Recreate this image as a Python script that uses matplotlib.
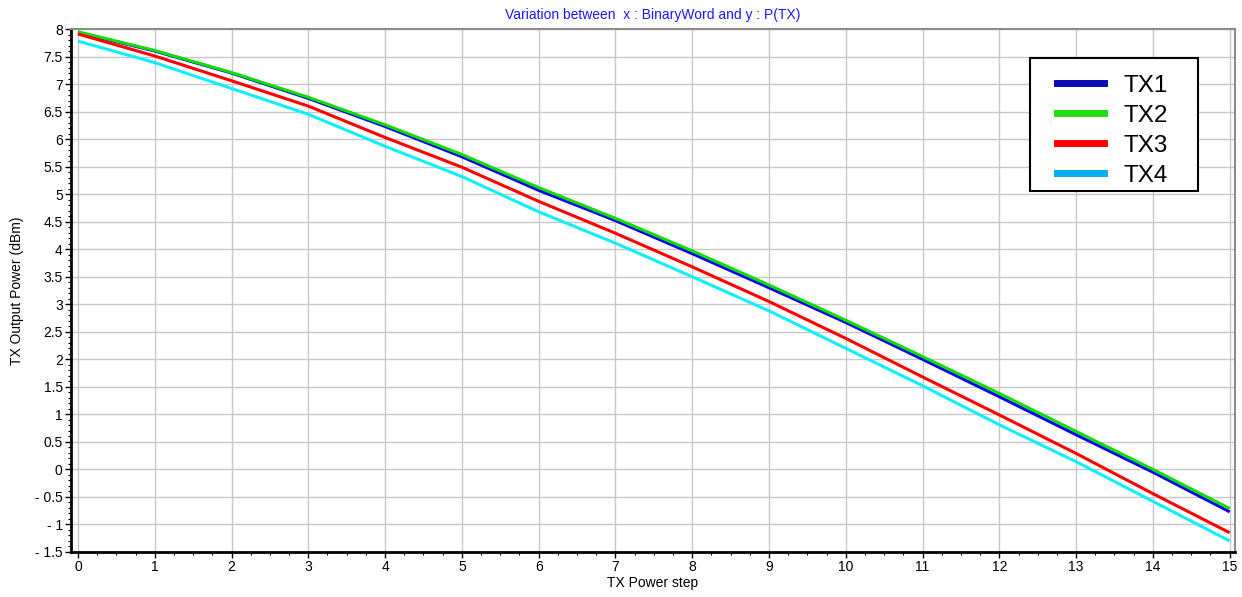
"""TX output power vs power step — four transmitters"""

import matplotlib
matplotlib.use("Agg")
import matplotlib.pyplot as plt
from matplotlib.lines import Line2D
from matplotlib.patches import Rectangle
from matplotlib.ticker import MultipleLocator, FuncFormatter

plt.rcParams["font.family"] = ["Liberation Sans", "DejaVu Sans"]

# ── data ──
steps = list(range(16))
tx1 = [7.94, 7.60, 7.20, 6.74, 6.23, 5.68, 5.07, 4.52, 3.92, 3.30, 2.67, 2.00, 1.32, 0.63, -0.05, -0.77]
tx2 = [7.95, 7.61, 7.21, 6.76, 6.26, 5.72, 5.12, 4.56, 3.97, 3.35, 2.71, 2.05, 1.38, 0.69, 0.00, -0.71]
tx3 = [7.91, 7.51, 7.06, 6.60, 6.03, 5.49, 4.87, 4.29, 3.68, 3.05, 2.38, 1.68, 0.99, 0.29, -0.44, -1.15]
tx4 = [7.78, 7.39, 6.92, 6.45, 5.87, 5.32, 4.68, 4.11, 3.50, 2.88, 2.20, 1.52, 0.81, 0.14, -0.58, -1.30]

series = [("TX1", tx1, "#0000ff", "#0a0ab4"),
          ("TX2", tx2, "#11dd00", "#22dd11"),
          ("TX3", tx3, "#ff0000", "#ff0000"),
          ("TX4", tx4, "#11eeff", "#00b0f0")]

# ── plot ──
fig = plt.figure(figsize=(12.42, 5.97), dpi=100)
ax = fig.add_axes([0.0572, 0.0754, 0.9372, 0.876])

for name, vals, col, _ in series:
    ax.plot(steps, vals, color=col, linewidth=2.2, solid_capstyle="butt")

ax.set_xlim(-0.09, 15.07)
ax.set_ylim(-1.5, 8)
ax.xaxis.set_major_locator(MultipleLocator(1))
ax.xaxis.set_minor_locator(MultipleLocator(0.25))
ax.yaxis.set_major_locator(MultipleLocator(0.5))
ax.yaxis.set_minor_locator(MultipleLocator(0.1))

fmt = FuncFormatter(lambda v, p: ("- %g" % abs(v)) if v < -1e-9 else "%g" % abs(v))
ax.yaxis.set_major_formatter(fmt)

ax.grid(which="major", color="#c8c8c8", linewidth=1.0)
ax.set_axisbelow(True)

ax.tick_params(which="major", direction="out", length=4, width=1, labelsize=10, pad=2)
ax.tick_params(which="minor", direction="out", length=2, width=0.8)

for s in ("left", "bottom"):
    ax.spines[s].set_color("black")
    ax.spines[s].set_linewidth(2.0)
for s in ("top", "right"):
    ax.spines[s].set_color("#8c8c8c")
    ax.spines[s].set_linewidth(1.5)

ax.set_title("Variation between  x : BinaryWord and y : P(TX)", color="#1a1aff",
             fontsize=10, pad=7)
ax.set_xlabel("TX Power step", fontsize=10, labelpad=1)
ax.set_ylabel("TX Output Power (dBm)", fontsize=10, labelpad=8)

# legend box drawn separately so its padding can match the original
ax.add_patch(Rectangle((0.824, 0.690), 0.144, 0.2546, transform=ax.transAxes,
                       facecolor="white", edgecolor="black", linewidth=1.5,
                       zorder=4.5))
handles = [Line2D([], [], color=lc, linewidth=5) for _, _, _, lc in series]
leg = ax.legend(handles, [s[0] for s in series], loc="upper left",
                bbox_to_anchor=(0.8468, 0.913), fontsize=17.5, frameon=False,
                handlelength=1.94, handletextpad=0.8,
                labelspacing=0.335, borderpad=0, borderaxespad=0)

plt.savefig("out.png", dpi=100)
